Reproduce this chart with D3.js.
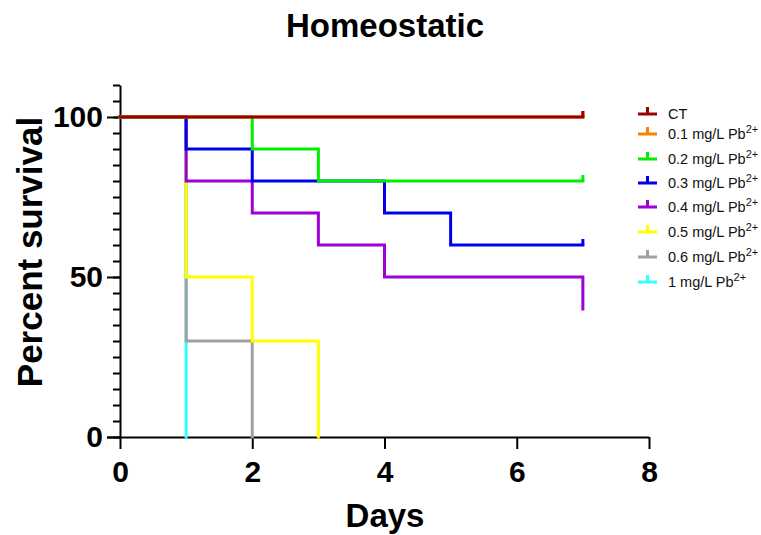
<!DOCTYPE html>
<html>
<head>
<meta charset="utf-8">
<script src="https://cdn.jsdelivr.net/npm/d3@7"></script>
<style>
  body { margin: 0; background: #fff; }
  svg { display: block; font-family: "Liberation Sans", Arial, sans-serif; }
</style>
</head>
<body>
<div id="chart"></div>
<script>
// Kaplan-Meier data (days, percent survival) ////////////////////////////////
const seriesNames   = ['CT', '0.1', '0.2', '0.3', '0.4', '0.5', '0.6', '1'];
const seriesColors  = ['#9b0000', '#ff7f00', '#00ee00', '#0000ee', '#9f00d8', '#ffff00', '#a0a0a4', '#33ffff'];
const ct_days   = [0, 7],                 ct_surv   = [100, 100];
const c01_days  = [0, 7],                 c01_surv  = [100, 100];
const c02_days  = [0, 2, 3, 7],           c02_surv  = [100, 90, 80, 80];
const c03_days  = [0, 1, 2, 4, 5, 7],     c03_surv  = [100, 90, 80, 70, 60, 60];
const c04_days  = [0, 1, 2, 3, 4, 7],     c04_surv  = [100, 80, 70, 60, 50, 40];
const c05_days  = [0, 1, 2, 3],           c05_surv  = [100, 50, 30, 0];
const c06_days  = [0, 1, 2],              c06_surv  = [100, 30, 0];
const c1_days   = [0, 1],                 c1_surv   = [100, 0];
const censored  = [true, true, true, true, false, false, false, false];   // tick mark at last day
const xTicks = [0, 2, 4, 6, 8];
const yTicks = [0, 50, 100];
const yMinor = d3.range(0, 111, 5);

const allDays = [ct_days, c01_days, c02_days, c03_days, c04_days, c05_days, c06_days, c1_days];
const allSurv = [ct_surv, c01_surv, c02_surv, c03_surv, c04_surv, c05_surv, c06_surv, c1_surv];
const series = seriesNames.map((name, i) => ({
  name, color: seriesColors[i], censored: censored[i],
  points: allDays[i].map((d, j) => [d, allSurv[i][j]])
}));

// SVG setup /////////////////////////////////////////////////////////////////
const width = 761, height = 535;
const svg = d3.select('#chart').append('svg')
  .attr('width', width).attr('height', height)
  .attr('viewBox', [0, 0, width, height]);

const x = d3.scaleLinear().domain([0, 8]).range([120, 649]);
const y = d3.scaleLinear().domain([0, 110]).range([437, 85]);

// Title + axis titles
svg.append('text').attr('x', 385).attr('y', 37).attr('text-anchor', 'middle')
  .attr('font-size', 33).attr('font-weight', 'bold').text('Homeostatic');
svg.append('text').attr('x', 385).attr('y', 527).attr('text-anchor', 'middle')
  .attr('font-size', 33).attr('font-weight', 'bold').text('Days');
svg.append('text').attr('transform', 'translate(42,252) rotate(-90)').attr('text-anchor', 'middle')
  .attr('font-size', 35).attr('font-weight', 'bold').text('Percent survival');

// Axes //////////////////////////////////////////////////////////////////////
const yMinorAxis = svg.append('g').attr('transform', 'translate(120,0)')
  .call(d3.axisLeft(y).tickValues(yMinor).tickSize(7).tickSizeOuter(0).tickFormat(''));
const yAxis = svg.append('g').attr('transform', 'translate(120,0)')
  .call(d3.axisLeft(y).tickValues(yTicks).tickSize(13).tickSizeOuter(0).tickPadding(4));
const xAxis = svg.append('g').attr('transform', 'translate(0,437)')
  .call(d3.axisBottom(x).tickValues(xTicks).tickSize(12).tickSizeOuter(0).tickPadding(12));

[yMinorAxis, yAxis, xAxis].forEach(g => {
  g.selectAll('path, line').attr('stroke', '#000').attr('stroke-width', 2);
  g.selectAll('text').attr('font-size', 30).attr('font-weight', 'bold')
    .attr('font-family', '"Liberation Sans", Arial, sans-serif').attr('fill', '#000');
});
yAxis.select('.domain').remove();
xAxis.select('.domain').attr('d', `M${x(0) - 13},0.5H${x(8)}`);

// Survival curves ///////////////////////////////////////////////////////////
const line = d3.line().x(d => x(d[0])).y(d => y(d[1])).curve(d3.curveStepAfter);
const curves = svg.append('g').attr('id', 'curves');
// drawn from last to first so that CT ends up on top
series.slice().reverse().forEach(s => {
  curves.append('path').attr('d', line(s.points))
    .attr('fill', 'none').attr('stroke', s.color).attr('stroke-width', 3)
    .attr('stroke-linejoin', 'miter').attr('stroke-linecap', 'square');
  if (s.censored) {
    const last = s.points[s.points.length - 1];
    curves.append('line')
      .attr('x1', x(last[0])).attr('x2', x(last[0]))
      .attr('y1', y(last[1])).attr('y2', y(last[1]) - 6)
      .attr('stroke', s.color).attr('stroke-width', 3);
  }
});

// Legend ////////////////////////////////////////////////////////////////////
const legendY = [114, 134, 159, 183, 207, 232, 257, 282];
const legend = svg.append('g').attr('id', 'legend');
series.forEach((s, i) => {
  const g = legend.append('g').attr('transform', `translate(638,${legendY[i]})`);
  g.append('line').attr('x1', 0).attr('x2', 19).attr('y1', 0).attr('y2', 0)
    .attr('stroke', s.color).attr('stroke-width', 3);
  g.append('line').attr('x1', 9.5).attr('x2', 9.5).attr('y1', 0).attr('y2', -7)
    .attr('stroke', s.color).attr('stroke-width', 3);
  const t = g.append('text').attr('x', 30).attr('y', 5).attr('font-size', 14.5).attr('fill', '#111');
  if (s.name === 'CT') {
    t.text('CT');
  } else {
    t.append('tspan').text(`${s.name} mg/L Pb`);
    t.append('tspan').attr('dy', -6).attr('font-size', 11).text('2+');
  }
});
</script>
</body>
</html>
